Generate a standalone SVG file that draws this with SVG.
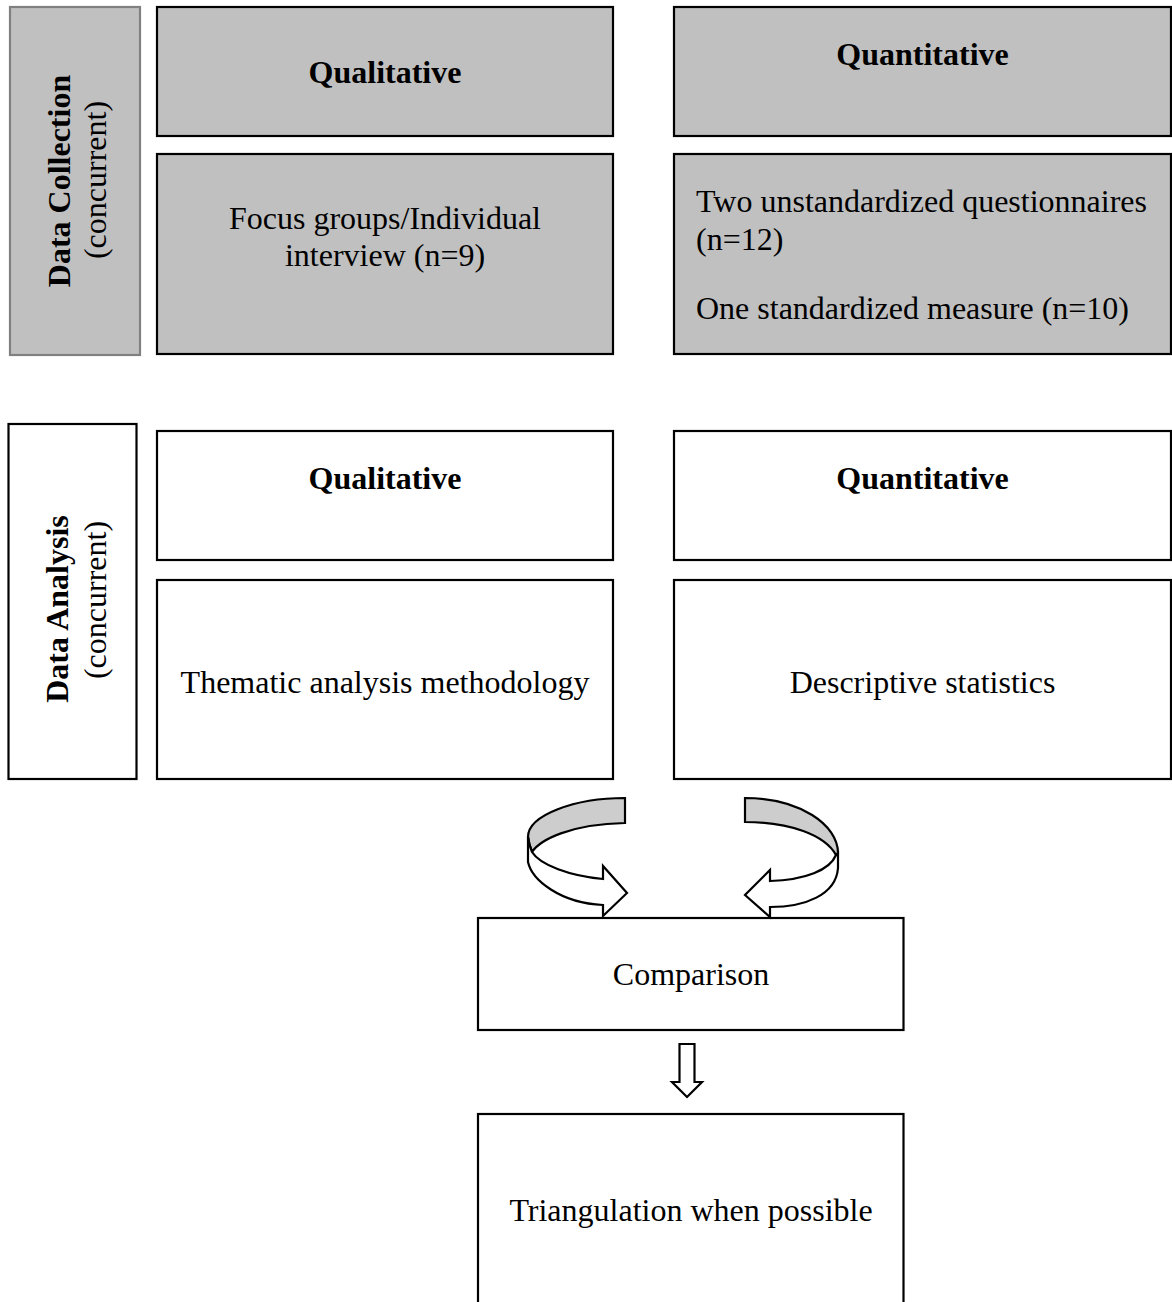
<svg xmlns="http://www.w3.org/2000/svg" width="1172" height="1302" viewBox="0 0 1172 1302">
<style>
.box{stroke:#000;stroke-width:2.2;}
.g{fill:#c0c0c0;}
.w{fill:#fff;}
.t{font-family:"Liberation Serif","Times New Roman",serif;font-size:32px;fill:#000;}
.b{font-weight:bold;}
.c{text-anchor:middle;}
.arr{stroke:#000;stroke-width:2.2;stroke-linejoin:miter;}
</style>
<rect width="1172" height="1302" fill="#fff"/>
<g id="label-collection">
<rect x="10" y="7" width="130" height="348" fill="#c0c0c0" stroke="#808080" stroke-width="2.2"/>
<text class="t b c" transform="translate(70,181) rotate(-90)">Data Collection</text>
<text class="t c" transform="translate(106,180) rotate(-90)">(concurrent)</text>
</g>
<g id="collection-qual-head">
<rect class="box g" x="157" y="7" width="456" height="129"/>
<text class="t b c" x="385" y="83">Qualitative</text>
</g>
<g id="collection-quant-head">
<rect class="box g" x="674" y="7" width="497" height="129"/>
<text class="t b c" x="922.5" y="65">Quantitative</text>
</g>
<g id="collection-qual-body">
<rect class="box g" x="157" y="154" width="456" height="200"/>
<text class="t c" x="385" y="229">Focus groups/Individual</text>
<text class="t c" x="385" y="266">interview (n=9)</text>
</g>
<g id="collection-quant-body">
<rect class="box g" x="674" y="154" width="497" height="200"/>
<text class="t" x="696" y="212">Two unstandardized questionnaires</text>
<text class="t" x="696" y="250">(n=12)</text>
<text class="t" x="696" y="319">One standardized measure (n=10)</text>
</g>
<g id="label-analysis">
<rect class="box w" x="8.5" y="424" width="128" height="355"/>
<text class="t b c" transform="translate(68,609) rotate(-90)">Data Analysis</text>
<text class="t c" transform="translate(106,600) rotate(-90)">(concurrent)</text>
</g>
<g id="analysis-qual-head">
<rect class="box w" x="157" y="431" width="456" height="129"/>
<text class="t b c" x="385" y="489">Qualitative</text>
</g>
<g id="analysis-quant-head">
<rect class="box w" x="674" y="431" width="497" height="129"/>
<text class="t b c" x="922.5" y="489">Quantitative</text>
</g>
<g id="analysis-qual-body">
<rect class="box w" x="157" y="580" width="456" height="199"/>
<text class="t c" x="385" y="693">Thematic analysis methodology</text>
</g>
<g id="analysis-quant-body">
<rect class="box w" x="674" y="580" width="497" height="199"/>
<text class="t c" x="922.5" y="693">Descriptive statistics</text>
</g>
<g id="comparison">
<rect class="box w" x="478" y="918" width="425.5" height="112"/>
<text class="t c" x="691" y="985">Comparison</text>
</g>
<g id="triangulation">
<rect class="box w" x="478" y="1114" width="425.5" height="220"/>
<text class="t c" x="691" y="1221">Triangulation when possible</text>
</g>
<g id="connectors">
<path class="arr" fill="#cdcdcd" d="M625,798 C575,798 528,815 528,837 Q529,845 532,852 C540,840 570,824 625,823 Z"/>
<path class="arr" fill="#fff" d="M528,837 L528,862 C532,880 560,903 603,905 L603,916 L627,893 L603,866 L603,879 C570,876 540,865 532,852 Q529,845 528,837 Z"/>
<path class="arr" fill="#cdcdcd" d="M745,798 C800,798 838,825 838,853 Q837,854 836,855 C825,835 790,822 745,822 Z"/>
<path class="arr" fill="#fff" d="M838,853 L838,868 C836,895 805,907 770,907 L770,917 L745,895 L770,870 L770,881 C805,880 830,870 836,855 Q837,854 838,853 Z"/>
<path class="arr" fill="#fff" d="M679.5,1044 L694.5,1044 L694.5,1082 L702,1082 L687,1097 L672,1082 L679.5,1082 Z"/>
</g>
</svg>
